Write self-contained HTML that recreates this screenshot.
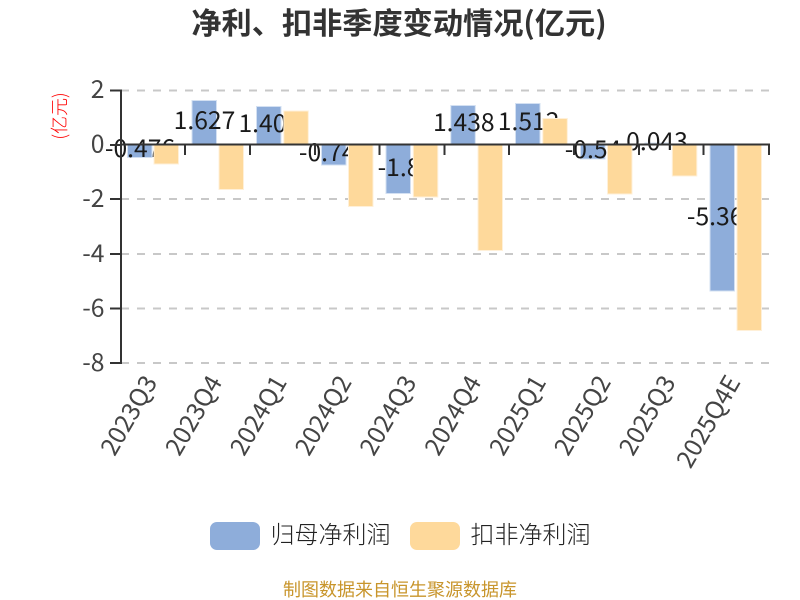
<!DOCTYPE html>
<html><head><meta charset="utf-8"><style>
html,body{margin:0;padding:0;background:#fff}
svg{display:block}
text{font-family:"Noto Sans CJK SC","Liberation Sans",sans-serif}
.n text{font-size:24.7px}
.a text{fill:#444;text-anchor:end}
.l text{fill:#1a1a1a;text-anchor:middle}
.b{fill:#8eadda;stroke:#d3e0f2;stroke-width:1}
.o{fill:#fed99b;stroke:#fff0d8;stroke-width:1}
.g{stroke:#c8c8c8;stroke-width:2;stroke-dasharray:8 8;fill:none}
.x{stroke:#333;stroke-width:2;fill:none}
</style></head><body>
<svg width="800" height="600" viewBox="0 0 800 600" xmlns="http://www.w3.org/2000/svg">
<text x="399" y="34" text-anchor="middle" font-size="30.2" font-weight="bold" fill="#333">净利、扣非季度变动情况(亿元)</text>
<text transform="translate(66,116) rotate(-90)" text-anchor="middle" font-size="18" font-weight="300" fill="#f00">(亿元)</text>
<g class="g">
<path d="M121 90.500H769M121 199H769M121 254H769M121 308.500H769M121 363H769"/>
</g>
<g class="b">
<rect x="127.500" y="144.500" width="24.500" height="13"/>
<rect x="192" y="100.500" width="24.500" height="44"/>
<rect x="256.500" y="106.500" width="24.500" height="38"/>
<rect x="321.500" y="144.500" width="24.500" height="20.500"/>
<rect x="386" y="144.500" width="24.500" height="49"/>
<rect x="450.800" y="105.500" width="24.500" height="39"/>
<rect x="515.500" y="103.500" width="24.500" height="41"/>
<rect x="580.500" y="144.500" width="24.500" height="14.500"/>
<rect x="645" y="143" width="24.500" height="1.500"/>
<rect x="710" y="144.500" width="24.500" height="146.500"/>
</g>
<g class="n l">
<text x="140" y="157">-0.476</text>
<text x="204.500" y="129">1.627</text>
<text x="269.300" y="132">1.409</text>
<text x="334" y="161">-0.747</text>
<text x="399" y="176">-1.8</text>
<text x="463.800" y="131">1.438</text>
<text x="528.600" y="130">1.512</text>
<text x="593" y="158">-0.54</text>
<text x="657" y="150">0.043</text>
<text x="722" y="225">-5.365</text>
</g>
<g class="o">
<rect x="154" y="144.500" width="24.500" height="19.500"/>
<rect x="219" y="144.500" width="24.500" height="45"/>
<rect x="283.800" y="111" width="24.500" height="33.500"/>
<rect x="348.500" y="144.500" width="24.500" height="62"/>
<rect x="413.300" y="144.500" width="24.500" height="52.500"/>
<rect x="478" y="144.500" width="24.500" height="106"/>
<rect x="542.800" y="118.500" width="24.500" height="26"/>
<rect x="607.500" y="144.500" width="24.500" height="49.500"/>
<rect x="672.300" y="144.500" width="24.500" height="31.500"/>
<rect x="737" y="144.500" width="24.500" height="186"/>
</g>
<path class="x" d="M121 89.500V364M110 90.500H121M110 145H121M110 199H121M110 254H121M110 308.500H121M110 363H121"/>
<path class="x" d="M120 144.500H770M185 144.500V155M250 144.500V155M315 144.500V155M379.500 144.500V155M444.500 144.500V155M509 144.500V155M574 144.500V155M639 144.500V155M703.500 144.500V155M769 144.500V155"/>
<g class="n a">
<text x="104.500" y="98">2</text>
<text x="104.500" y="152.500">0</text>
<text x="104.500" y="207">-2</text>
<text x="104.500" y="262">-4</text>
<text x="104.500" y="316.500">-6</text>
<text x="104.500" y="371">-8</text>
</g>
<g class="n a">
<text transform="translate(158,382) rotate(-60)">2023Q3</text>
<text transform="translate(222.800,382) rotate(-60)">2023Q4</text>
<text transform="translate(287.600,382) rotate(-60)">2024Q1</text>
<text transform="translate(352.400,382) rotate(-60)">2024Q2</text>
<text transform="translate(417.200,382) rotate(-60)">2024Q3</text>
<text transform="translate(482,382) rotate(-60)">2024Q4</text>
<text transform="translate(546.800,382) rotate(-60)">2025Q1</text>
<text transform="translate(611.600,382) rotate(-60)">2025Q2</text>
<text transform="translate(676.400,382) rotate(-60)">2025Q3</text>
<text transform="translate(741.200,382) rotate(-60)">2025Q4E</text>
</g>
<rect x="210" y="522" width="50" height="28" rx="7" fill="#8eadda"/>
<text x="270.500" y="543" font-size="24" font-weight="300" fill="#222">归母净利润</text>
<rect x="410" y="522" width="50" height="28" rx="7" fill="#fed99b"/>
<text x="470.500" y="543" font-size="24" font-weight="300" fill="#222">扣非净利润</text>
<text x="400" y="596" text-anchor="middle" font-size="18" fill="#c8952b">制图数据来自恒生聚源数据库</text>
</svg>
</body></html>
